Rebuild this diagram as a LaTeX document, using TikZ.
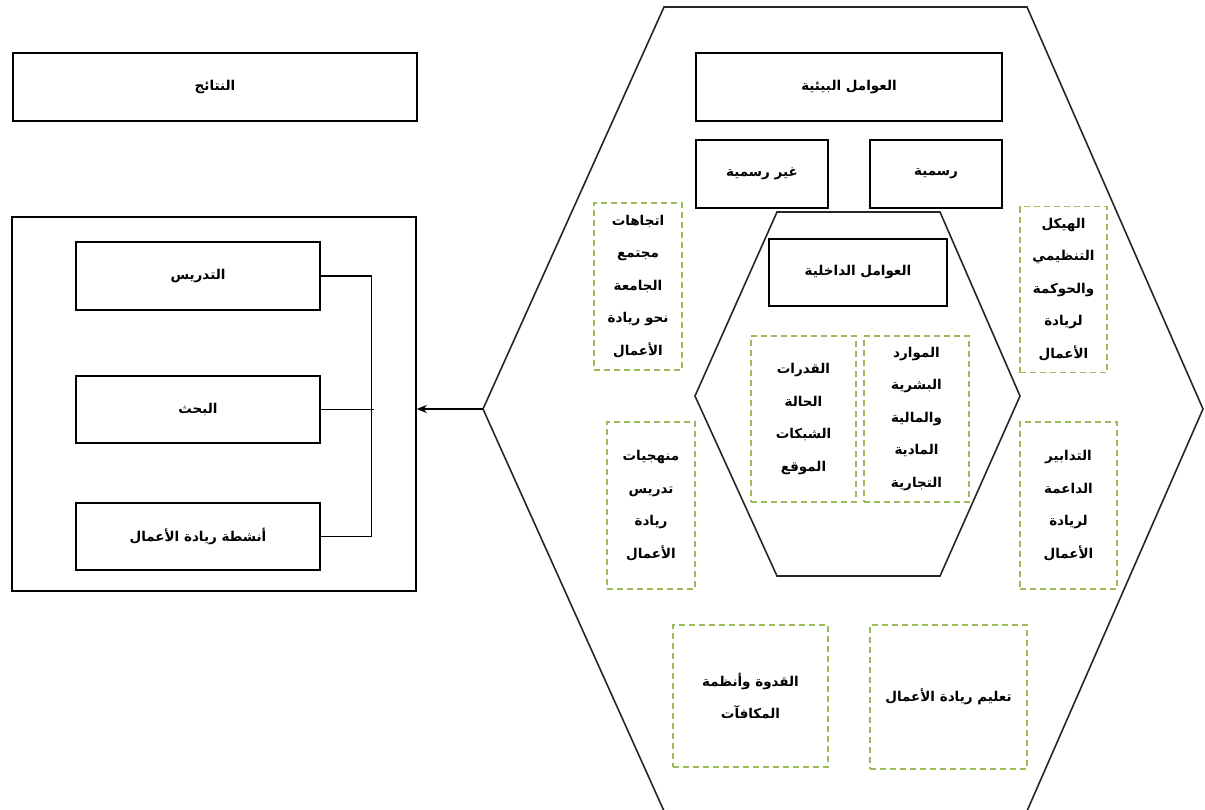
\documentclass[tikz,border=0pt]{standalone}
\usepackage{fontspec}
\newfontfamily\arabicfont[Script=Arabic]{DejaVu Sans}
\TeXXeTstate=1
\usetikzlibrary{arrows.meta}
\definecolor{softgreen}{RGB}{155,187,89}
\newcommand{\rl}[1]{\beginR #1\endR}
\tikzset{
  box/.style={draw=black, line width=1.5pt, inner sep=0pt, align=center,
              font=\arabicfont\bfseries\fontsize{13.5}{32.5}\selectfont},
  soft/.style={box, draw=softgreen, line width=1.3pt,
               dash pattern=on 6pt off 4pt},
  hexline/.style={draw=black!85, line width=1.6pt, line join=miter},
  arr/.style={-{Stealth[length=10pt, width=8pt]}, line width=2pt},
}

\begin{document}
\begin{tikzpicture}[x=1pt, y=-1pt]
  \useasboundingbox (0,0) rectangle (1205,809);

  % ---- outer and inner hexagons ----
  \coordinate (hexL) at (483,409);
  \draw[hexline] (hexL) -- (664,7) -- (1027,7) -- (1203,409)
    -- (1027,811) -- (664,811) -- cycle;
  \draw[hexline] (695,396) -- (777,212) -- (940,212) -- (1020,396)
    -- (940,576) -- (777,576) -- cycle;

  % ---- left: results ----
  \node[box, minimum width=404, minimum height=68] (results) at (215,87)
    {\rl{النتائج}};
  \node[box, minimum width=404, minimum height=374] (outcome) at (214,404) {};
  \node[box, minimum width=244, minimum height=68] (teach) at (198,276)
    {\rl{التدريس}};
  \node[box, minimum width=244, minimum height=67] (research) at (198,409.5)
    {\rl{البحث}};
  \node[box, minimum width=244, minimum height=67] (activity) at (198,536.5)
    {\rl{أنشطة ريادة الأعمال}};
  \draw[line width=1.3pt] (teach.east) -- ++(51,0) |- (activity.east);
  \draw[line width=1.3pt] (research.east) -- ++(53,0);
  \draw[arr] (hexL) -- (outcome.east |- hexL);

  % ---- environmental factors ----
  \node[box, minimum width=306, minimum height=68] (environ) at (849,87)
    {\rl{العوامل البيئية}};
  \node[box, minimum width=132, minimum height=68] (informal) at (762,174)
    {\rl{غير رسمية}};
  \node[box, minimum width=132, minimum height=68] (formal) at (936,174)
    {\rl{رسمية}};

  % ---- internal factors ----
  \node[box, minimum width=178, minimum height=67] (internal) at (858,272.5)
    {\rl{العوامل الداخلية}};
  \node[soft, minimum width=105, minimum height=166] (capab) at (803.5,419)
    {\rl{القدرات}\\\rl{الحالة}\\\rl{الشبكات}\\\rl{الموقع}};
  \node[soft, minimum width=105, minimum height=166] (resources) at (916.5,419)
    {\rl{الموارد}\\\rl{البشرية}\\\rl{والمالية}\\\rl{المادية}\\\rl{التجارية}};

  % ---- side factors ----
  \node[soft, minimum width=88, minimum height=167] (trends) at (638,286.5)
    {\rl{اتجاهات}\\\rl{مجتمع}\\\rl{الجامعة}\\\rl{نحو ريادة}\\\rl{الأعمال}};
  \node[soft, minimum width=88, minimum height=167] (methods) at (651,505.5)
    {\rl{منهجيات}\\\rl{تدريس}\\\rl{ريادة}\\\rl{الأعمال}};
  \node[soft, minimum width=87, minimum height=166] (structure) at (1063.5,289.5)
    {\rl{الهيكل}\\\rl{التنظيمي}\\\rl{والحوكمة}\\\rl{لريادة}\\\rl{الأعمال}};
  \node[soft, minimum width=97, minimum height=167] (measures) at (1068.5,505.5)
    {\rl{التدابير}\\\rl{الداعمة}\\\rl{لريادة}\\\rl{الأعمال}};

  % ---- bottom factors ----
  \node[soft, minimum width=155, minimum height=142] (rolemodel) at (750.5,696)
    {\rl{القدوة وأنظمة}\\\rl{المكافآت}};
  \node[soft, minimum width=157, minimum height=144] (education) at (948.5,697)
    {\rl{تعليم ريادة الأعمال}};
\end{tikzpicture}
\end{document}
